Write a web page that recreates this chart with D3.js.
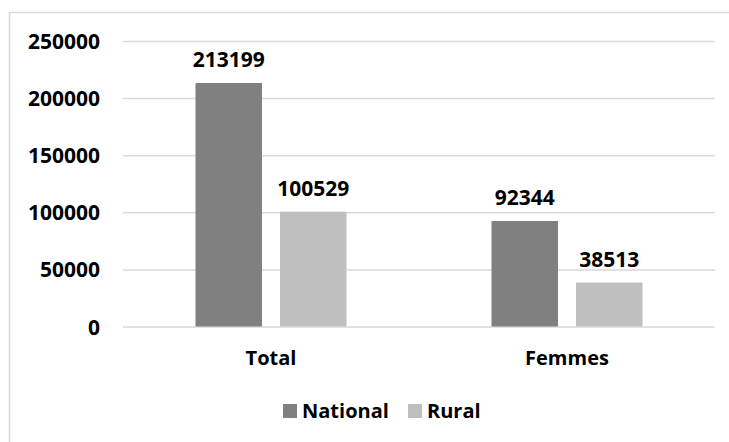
<!DOCTYPE html>
<html>
<head>
<meta charset="utf-8">
<script src="https://cdn.jsdelivr.net/npm/d3@7"></script>
<style>
  body { margin: 0; background: #fff; }
  text { font-family: "Open Sans", sans-serif; font-weight: bold; fill: #000; }
</style>
</head>
<body>
<div class="chart"></div>
<script>
var categories = ['Total', 'Femmes']
var series = ['National', 'Rural']
var national = [213199, 92344]
var rural = [100529, 38513]
var yTicks = [0, 50000, 100000, 150000, 200000, 250000]

var colors = {'National': '#808080', 'Rural': '#bfbfbf'}

var width = 729, height = 442
var plot = {left: 123, right: 715, top: 41, bottom: 326.5}

var svg = d3.select('.chart')
            .append('svg')
            .attr('width', width)
            .attr('height', height)

// chart frame (only top and left edges are visible in the picture)
svg.append('path')
   .attr('d', 'M9.5,' + height + 'V12.5H' + width)
   .style('fill', 'none')
   .style('stroke', '#d9d9d9')
   .style('stroke-width', 1.5)

var yScale = d3.scaleLinear()
               .domain([0, 250000])
               .range([plot.bottom, plot.top])

var xScale = d3.scaleBand()
               .domain(categories)
               .range([plot.left, plot.right])

var groupWidth = 151
var innerScale = d3.scaleBand()
                   .domain(series)
                   .range([0, groupWidth])
                   .paddingInner(0.213)

// gridlines + y labels
var yAxis = d3.axisLeft(yScale)
              .tickValues(yTicks)
              .tickSize(-(plot.right - plot.left))
              .tickPadding(23)
              .tickFormat(d3.format('d'))

var yg = svg.append('g')
   .attr('class', 'axis')
   .attr('transform', 'translate(' + plot.left + ',0)')
   .call(yAxis)

yg.select('.domain').remove()
yg.selectAll('.tick line')
  .style('stroke', '#d9d9d9')
  .style('stroke-width', 1.5)
yg.selectAll('.tick text')
  .style('font-size', '21px')
  .style('font-family', '"Open Sans", sans-serif')
  .style('font-weight', 'bold')
  .attr('dy', '0.36em')

var rows = []
categories.forEach(function(c, i) {
   rows.push({cat: c, name: 'National', value: national[i]})
   rows.push({cat: c, name: 'Rural', value: rural[i]})
})

function barX(d) {
   return xScale(d.cat) + (xScale.bandwidth() - groupWidth) / 2 + innerScale(d.name)
}

svg.selectAll('.bar')
   .data(rows)
   .enter()
   .append('rect')
   .attr('class', 'bar')
   .attr('x', barX)
   .attr('y', function(d) { return yScale(d.value) })
   .attr('width', innerScale.bandwidth())
   .attr('height', function(d) { return yScale(0) - yScale(d.value) })
   .style('fill', function(d) { return colors[d.name] })

svg.selectAll('.value-label')
   .data(rows)
   .enter()
   .append('text')
   .attr('class', 'value-label')
   .attr('x', function(d) { return barX(d) + innerScale.bandwidth() / 2 })
   .attr('y', function(d) { return yScale(d.value) - 16 })
   .attr('text-anchor', 'middle')
   .style('font-size', '21px')
   .text(function(d) { return d.value })

// category labels
svg.selectAll('.cat-label')
   .data(categories)
   .enter()
   .append('text')
   .attr('class', 'cat-label')
   .attr('x', function(d) { return xScale(d) + xScale.bandwidth() / 2 })
   .attr('y', 365)
   .attr('text-anchor', 'middle')
   .style('font-size', '20px')
   .text(function(d) { return d })

// legend
var legendX = [283, 408]
var legend = svg.selectAll('.legend')
   .data(series)
   .enter()
   .append('g')
   .attr('class', 'legend')
   .attr('transform', function(d, i) { return 'translate(' + legendX[i] + ',404)' })

legend.append('rect')
      .attr('width', 14)
      .attr('height', 14)
      .style('fill', function(d) { return colors[d] })

legend.append('text')
      .attr('x', 19)
      .attr('y', 14)
      .style('font-size', '20px')
      .text(function(d) { return d })
</script>
</body>
</html>
